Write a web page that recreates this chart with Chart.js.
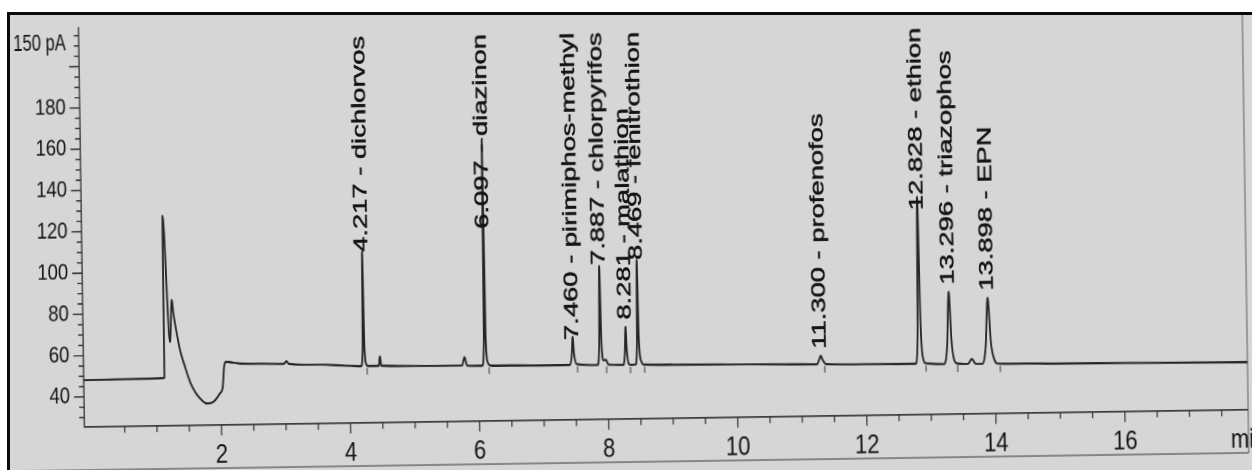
<!DOCTYPE html>
<html>
<head>
<meta charset="utf-8">
<title>GC-FID chromatogram – organophosphorus pesticide standard</title>
<script src="https://cdn.jsdelivr.net/npm/chart.js@4.4.1/dist/chart.umd.min.js"></script>
<style>
  html, body { margin: 0; padding: 0; background: #ffffff; }
  body { width: 1252px; height: 470px; overflow: hidden; position: relative; }
  /* printed sheet */
  #sheet { position: absolute; left: 10px; top: 15px; width: 1260px; height: 470px;
           background: #d6d6d6; overflow: hidden; }
  /* the printout sits slightly rotated on the sheet and its print is vertically elongated */
  #plate { position: absolute; left: -10px; top: -15px; width: 1252px; height: 392px;
           transform-origin: 626px 0; transform: rotate(-0.85deg) scaleY(1.2); }
  #frame { position: absolute; left: 7px; top: 12px; width: 1300px; height: 500px;
           border-left: 3px solid #0b0b0b; border-top: 3px solid #0b0b0b;
           box-sizing: border-box; pointer-events: none; }
</style>
</head>
<body>
<div id="sheet"><div id="plate"><canvas id="chromatogram" width="1252" height="392"></canvas></div></div>
<div id="frame"></div>
<script>
// ---- detector trace, [time (min), signal (pA)] ----
const preInjection = [[-0.124, 48.1], [0.35, 48.3], [0.75, 48.4], [1.125, 48.6]];
const solventFront = [
  [1.132, 127.1], [1.221, 66.1], [1.257, 86.3], [1.279, 79.9], [1.327, 70.2],
  [1.375, 62.0], [1.448, 53.9], [1.522, 46.6], [1.597, 41.7], [1.673, 38.5],
  [1.776, 36.0], [1.879, 36.7], [1.984, 40.8], [2.028, 43.9], [2.053, 53.6], [2.085, 56.0]
];
const baselineDrift = [
  [2.3, 55.1], [2.7, 54.8], [3.5, 54.0], [4.0, 53.2], [5.0, 52.7], [5.5, 52.5],
  [6.5, 52.2], [7.0, 52.0], [9.0, 51.4], [10.0, 51.1], [11.0, 50.7], [12.0, 50.3],
  [12.5, 50.1], [14.5, 49.4], [15.0, 49.2], [16.0, 49.0], [17.0, 48.7], [17.91, 48.5]
];
const minorBumps = [
  [2.98, 54.6], [3.02, 55.9], [3.06, 54.5],
  [4.45, 53.0], [4.47, 57.5], [4.49, 53.0],
  [5.74, 52.5], [5.78, 56.5], [5.82, 52.4],
  [13.58, 49.7], [13.64, 52.0], [13.70, 49.7]
];

// ---- identified peaks ----
const peakTimes   = [4.217, 6.097, 7.460, 7.887, 8.281, 8.469, 11.300, 12.828, 13.296, 13.898];
const peakNames   = ['dichlorvos', 'diazinon', 'pirimiphos-methyl', 'chlorpyrifos', 'malathion',
                     'fenitrothion', 'profenofos', 'ethion', 'triazophos', 'EPN'];
const peakHeights = [108.3, 162.0, 65.7, 99.7, 70.1, 102.3, 54.6, 130.9, 84.7, 81.5];
const peakLeading = [
  [[4.175, 52.9], [4.203, 60.0]],
  [[6.055, 52.3], [6.083, 63.0]],
  [[7.41, 52.0], [7.442, 56.5]],
  [[7.84, 51.8], [7.870, 61.0]],
  [[8.24, 51.7], [8.266, 57.5]],
  [[8.43, 51.8], [8.455, 61.0]],
  [[11.24, 50.6], [11.28, 53.2]],
  [[12.77, 50.1], [12.805, 63.0]],
  [[13.21, 49.8], [13.262, 59.0]],
  [[13.80, 49.6], [13.858, 58.0]]
];
const peakTrailing = [
  [[4.232, 62.0], [4.26, 53.6], [4.29, 52.9]],
  [[6.112, 66.0], [6.14, 53.8], [6.18, 52.3]],
  [[7.478, 57.5], [7.52, 52.4]],
  [[7.905, 63.0], [7.935, 54.0], [7.97, 54.3], [8.01, 51.9]],
  [[8.297, 58.5], [8.33, 51.9], [8.36, 51.6]],
  [[8.485, 64.0], [8.52, 53.2], [8.56, 51.7]],
  [[11.33, 52.6], [11.38, 50.6]],
  [[12.852, 72.0], [12.878, 54.0], [12.93, 50.3]],
  [[13.33, 61.0], [13.37, 51.5], [13.42, 49.9]],
  [[13.94, 60.0], [13.985, 52.0], [14.05, 49.6]]
];

// integration end marks (time, signal level)
const integrationMarkTimes  = [4.27, 6.16, 7.53, 7.98, 8.35, 8.57, 11.36, 12.93, 13.42, 14.08];
const integrationMarkLevels = [52.9, 52.3, 52.3, 51.9, 51.6, 51.7, 50.6, 50.3, 49.9, 49.5];

// ---- axis labelling ----
const xTickValues = [2, 4, 6, 8, 10, 12, 14, 16];
const xTickLabels = ['2', '4', '6', '8', '10', '12', '14', '16'];
const xAxisUnit   = 'min';
const yTickValues = [40, 60, 80, 100, 120, 140, 160, 180];
const yTickLabels = ['40', '60', '80', '100', '120', '140', '160', '180'];
const yUnitLevel  = 211;
const yUnitLabel  = '150 pA';

// ---- assemble the trace ----
const tracePoints = [];
[preInjection, solventFront, baselineDrift, minorBumps].forEach(seg => seg.forEach(p => tracePoints.push(p)));
peakTimes.forEach((t, i) => {
  peakLeading[i].forEach(p => tracePoints.push(p));
  tracePoints.push([t, peakHeights[i]]);
  peakTrailing[i].forEach(p => tracePoints.push(p));
});
tracePoints.sort((a, b) => a[0] - b[0]);

const FONT = "'Liberation Sans', Arial, Helvetica, sans-serif";
const INK = '#141414';
const AXIS = '#333333';
const Y_TICK_GAP = 14;

// draws the print frame, tick marks, peak annotations and integration marks
const chromatogramDecor = {
  id: 'chromatogramDecor',
  beforeDatasetsDraw(chart) {
    const { ctx, chartArea: ca } = chart;
    const xs = chart.scales.x, ys = chart.scales.y;
    ctx.save();
    // printout border (right and bottom edge)
    ctx.strokeStyle = '#5e5e5e';
    ctx.lineWidth = 1;
    ctx.beginPath();
    ctx.moveTo(ca.right, -30); ctx.lineTo(ca.right, 385);
    ctx.moveTo(-30, 385); ctx.lineTo(ca.right, 385);
    ctx.stroke();
    // tick marks
    ctx.strokeStyle = AXIS;
    ctx.lineWidth = 1.2;
    ctx.beginPath();
    for (let k = 1; k * 0.5 < xs.max; k++) {
      const t = k * 0.5;
      const len = (t % 2 === 0) ? 8.5 : 5;
      const px = xs.getPixelForValue(t);
      ctx.moveTo(px, ca.bottom); ctx.lineTo(px, ca.bottom + len);
    }
    for (let v = 30; v <= ys.max; v += 5) {
      const len = (v % 20 === 0 && v >= 40) ? 10 : 5;
      const py = ys.getPixelForValue(v);
      ctx.moveTo(ca.left - len, py); ctx.lineTo(ca.left, py);
    }
    ctx.stroke();
    // signal unit label at the top of the axis (narrow, tall print)
    ctx.fillStyle = INK;
    ctx.font = `19.5px ${FONT}`;
    ctx.textAlign = 'right';
    ctx.textBaseline = 'middle';
    ctx.save();
    ctx.translate(ca.left - Y_TICK_GAP + 1, ys.getPixelForValue(yUnitLevel));
    ctx.scale(0.85, 1);
    ctx.fillText(yUnitLabel, 0, 0);
    ctx.restore();
    ctx.restore();
  },
  afterDatasetsDraw(chart) {
    const { ctx, chartArea: ca } = chart;
    const xs = chart.scales.x, ys = chart.scales.y;
    ctx.save();
    // integration marks under the trace
    ctx.strokeStyle = '#3a3a3a';
    ctx.lineWidth = 1;
    ctx.beginPath();
    integrationMarkTimes.forEach((t, i) => {
      const px = xs.getPixelForValue(t);
      const py = ys.getPixelForValue(integrationMarkLevels[i]);
      ctx.moveTo(px, py + 1.5); ctx.lineTo(px, py + 7);
    });
    ctx.stroke();
    // retention time / compound labels, written upward above each peak
    ctx.fillStyle = INK;
    ctx.strokeStyle = INK;
    ctx.lineWidth = 0.45;
    ctx.font = `19px ${FONT}`;
    ctx.textAlign = 'left';
    ctx.textBaseline = 'middle';
    const stretch = 1.2;
    peakTimes.forEach((t, i) => {
      const text = `${t.toFixed(3)} - ${peakNames[i]}`;
      const len = ctx.measureText(text).width * stretch;
      const px = xs.getPixelForValue(t);
      const apex = ys.getPixelForValue(peakHeights[i]);
      const y0 = Math.max(apex - 6, ca.top + 10 + len);
      ctx.save();
      ctx.translate(px, y0);
      ctx.rotate(-Math.PI / 2);
      ctx.scale(stretch, 1);
      ctx.fillText(text, 0, 0);
      ctx.strokeText(text, 0, 0);
      ctx.restore();
    });
    // time unit at the end of the axis
    ctx.font = `22px ${FONT}`;
    ctx.textAlign = 'center';
    ctx.fillText(xAxisUnit, xs.getPixelForValue(xs.max), ca.bottom + 12 + 13.2);
    ctx.restore();
  }
};

new Chart(document.getElementById('chromatogram'), {
  type: 'line',
  data: {
    datasets: [{
      label: 'FID signal',
      data: tracePoints.map(([x, y]) => ({ x, y })),
      borderColor: '#252525',
      borderWidth: 1.8,
      pointRadius: 0,
      fill: false,
      cubicInterpolationMode: 'monotone'
    }]
  },
  options: {
    responsive: false,
    animation: false,
    devicePixelRatio: 2,
    layout: { padding: { left: 0, top: 16.6, right: 10, bottom: 2.8 } },
    plugins: { legend: { display: false }, tooltip: { enabled: false }, title: { display: false } },
    scales: {
      x: {
        type: 'linear',
        position: 'bottom',
        min: -0.124,
        max: 17.91,
        grid: { display: true, drawOnChartArea: false, drawTicks: true, tickLength: 12, tickColor: 'rgba(0,0,0,0)' },
        border: { display: true, color: AXIS, width: 1.3 },
        ticks: {
          autoSkip: false, maxRotation: 0, minRotation: 0, padding: 0,
          color: INK, font: { family: FONT, size: 22 },
          callback: (v) => { const i = xTickValues.indexOf(v); return i >= 0 ? xTickLabels[i] : ''; }
        },
        afterBuildTicks: (s) => { s.ticks = xTickValues.map(v => ({ value: v })); },
        afterFit: (s) => { s.height = 40; }
      },
      y: {
        type: 'linear',
        position: 'left',
        min: 25.4,
        max: 218.7,
        grid: { display: true, drawOnChartArea: false, drawTicks: true, tickLength: Y_TICK_GAP, tickColor: 'rgba(0,0,0,0)' },
        border: { display: true, color: AXIS, width: 1.3 },
        ticks: {
          autoSkip: false, padding: 0,
          color: INK, font: { family: FONT, size: 18.5 },
          callback: (v) => { const i = yTickValues.indexOf(v); return i >= 0 ? yTickLabels[i] : ''; }
        },
        afterBuildTicks: (s) => { s.ticks = yTickValues.map(v => ({ value: v })); },
        afterFit: (s) => { s.width = 78.2; }
      }
    }
  },
  plugins: [chromatogramDecor]
});
</script>
</body>
</html>
